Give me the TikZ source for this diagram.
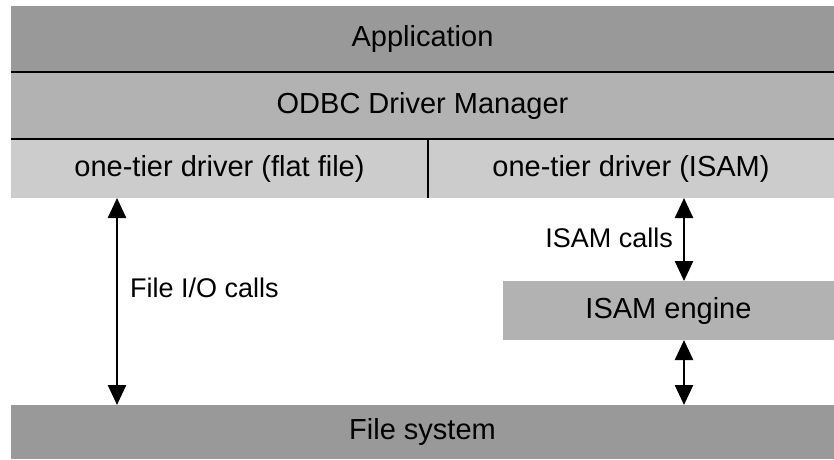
\documentclass[tikz,border=0pt]{standalone}
\usepackage{fontspec}
\setmainfont{Liberation Sans}
\usetikzlibrary{arrows.meta}
\definecolor{darkband}{gray}{0.6}
\definecolor{midband}{gray}{0.7}
\definecolor{lightband}{gray}{0.8}
\tikzset{
  layer/.style={rectangle, inner sep=0pt, outer sep=0pt, draw=none,
    font=\fontsize{29}{34}\selectfont},
  sep/.style={line width=2pt, black},
  call/.style={line width=2.5pt, {Triangle[width=18pt,length=20pt]}-{Triangle[width=18pt,length=20pt]}},
  lbl/.style={inner sep=0pt, font=\fontsize{27}{32}\selectfont}
}
\begin{document}
\begin{tikzpicture}[x=1pt,y=-1pt]
  \useasboundingbox[fill=white] (0,0) rectangle (834,459);

  % stacked layers
  \node[layer, fill=darkband, minimum width=823pt, minimum height=66pt] (app) at (422.5,39) {Application};
  \node[layer, fill=midband, minimum width=823pt, minimum height=67pt] (dm) at (422.5,105.5) {ODBC Driver Manager};
  \node[layer, fill=lightband, minimum width=417pt, minimum height=59pt] (flat) at (219.5,168.5) {one-tier driver (flat file)};
  \node[layer, fill=lightband, minimum width=406pt, minimum height=59pt] (isam) at (631,168.5) {one-tier driver (ISAM)};
  \node[layer, fill=midband, minimum width=331pt, minimum height=59pt] (eng) at (668.5,310.5) {ISAM engine};
  \node[layer, fill=darkband, minimum width=823pt, minimum height=54pt] (fs) at (422.5,432) {File system};

  % separator lines between layers
  \draw[sep] (app.south west) -- (app.south east);
  \draw[sep] (dm.south west) -- (dm.south east);
  \draw[sep] (flat.north east) -- (flat.south east);

  % call paths
  \coordinate (ftop) at (117,198);
  \coordinate (fbot) at (117,405);
  \draw[call] (flat.south -| ftop) -- (fs.north -| fbot);
  \coordinate (icol) at (684,0);
  \draw[call] (isam.south -| icol) -- (eng.north -| icol);
  \draw[call] (eng.south -| icol) -- (fs.north -| icol);

  % labels
  \node[lbl, anchor=west] (filelbl) at (130,288) {File I/O calls};
  \node[lbl, anchor=east] (isamlbl) at (673,238) {ISAM calls};
\end{tikzpicture}
\end{document}
